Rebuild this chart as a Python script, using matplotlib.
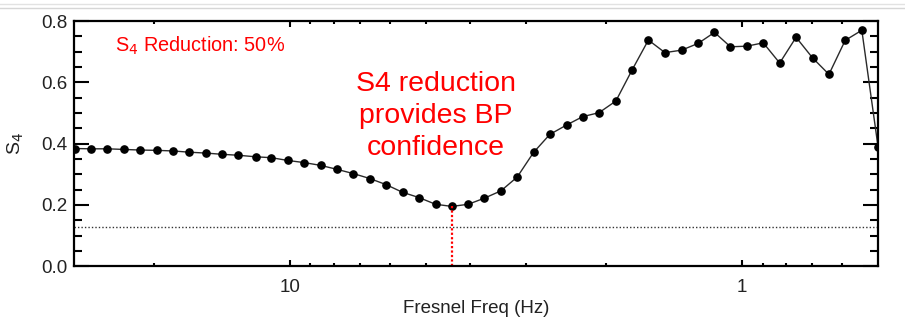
import numpy as np
import matplotlib
matplotlib.use('Agg')
import matplotlib.pyplot as plt
from matplotlib.ticker import FixedLocator, MultipleLocator, NullFormatter, FuncFormatter
from matplotlib.lines import Line2D

plt.rcParams['font.family'] = ['Liberation Sans', 'DejaVu Sans']

# Fresnel frequency (Hz) and S4 values
freq = [29.9, 27.5, 25.3, 23.3, 21.4, 19.7, 18.1, 16.7, 15.3, 14.1,
        13.0, 11.9, 10.98, 10.1, 9.29, 8.55, 7.86, 7.23, 6.65, 6.12,
        5.63, 5.18, 4.76, 4.38, 4.03, 3.71, 3.41, 3.14, 2.89, 2.66,
        2.44, 2.25, 2.07, 1.90, 1.75, 1.61, 1.48, 1.36, 1.25, 1.15,
        1.06, 0.975, 0.897, 0.825, 0.759, 0.698, 0.642, 0.591, 0.543, 0.500]
s4 = [0.384, 0.383, 0.383, 0.381, 0.379, 0.378, 0.376, 0.372, 0.369, 0.365,
      0.362, 0.357, 0.354, 0.345, 0.338, 0.329, 0.316, 0.302, 0.286, 0.266,
      0.241, 0.224, 0.202, 0.195, 0.202, 0.222, 0.246, 0.291, 0.371, 0.430,
      0.461, 0.488, 0.501, 0.539, 0.640, 0.738, 0.697, 0.705, 0.727, 0.763,
      0.716, 0.718, 0.729, 0.663, 0.747, 0.680, 0.626, 0.737, 0.770, 0.390]

noise_level = 0.129      # dotted horizontal line
bp_freq = 4.38           # red marker line (minimum)
bp_s4 = 0.195

fig = plt.figure(figsize=(9.05, 3.29), dpi=100)
ax = fig.add_axes([0.0818, 0.191, 0.8884, 0.745])

# light grey lines at the top of the screenshot
fig.lines.append(Line2D([0, 1], [1 - 3.5/329, 1 - 3.5/329], transform=fig.transFigure,
                        color='#e2e2e2', lw=1))
fig.lines.append(Line2D([0, 1], [1 - 8.3/329, 1 - 8.3/329], transform=fig.transFigure,
                        color='#d6d6d6', lw=1))

ax.plot(freq, s4, '-', color='#2a2a2a', lw=1.0, marker='o', ms=5.2,
        mfc='black', mec='black', clip_on=True)
ax.axhline(noise_level, color='#333333', lw=1.0, ls=(0, (1, 1.5)))
ax.plot([bp_freq, bp_freq], [0, bp_s4], color='red', lw=1.6, ls=(0, (1, 1)))

ax.set_xscale('log')
ax.set_xlim(30, 0.5)
ax.set_ylim(0, 0.8)

ax.xaxis.set_major_locator(FixedLocator([10, 1]))
ax.xaxis.set_major_formatter(FuncFormatter(lambda v, p: '%g' % v))
ax.xaxis.set_minor_locator(FixedLocator([20, 9, 8, 7, 6, 5, 4, 3, 2, 0.9, 0.8, 0.7, 0.6]))
ax.xaxis.set_minor_formatter(NullFormatter())

ax.yaxis.set_major_locator(MultipleLocator(0.2))
ax.yaxis.set_major_formatter(FuncFormatter(lambda v, p: '%.1f' % v))
ax.yaxis.set_minor_locator(MultipleLocator(0.05))

ax.tick_params(which='both', direction='in', top=True, right=True, colors='black',
               labelsize=13.5, labelcolor='#222222')
ax.tick_params(axis='y', which='major', length=11, width=1.5, pad=5)
ax.tick_params(axis='y', which='minor', length=5.5, width=1.5)
ax.tick_params(axis='x', which='major', length=4, width=1.5, pad=9)
ax.tick_params(axis='x', which='minor', length=2.5, width=1.5)

for sp in ax.spines.values():
    sp.set_linewidth(1.6)

ax.set_xlabel('Fresnel Freq (Hz)', fontsize=13.5, color='#222222', labelpad=3)
ax.set_ylabel('S$_4$', fontsize=14, color='#222222')
ax.yaxis.set_label_coords(-0.06, 0.5)

ax.text(0.051, 0.873, 'S$_4$ Reduction: 50%', transform=ax.transAxes,
        color='red', fontsize=14.3, va='baseline', ha='left')
ax.text(0.450, 0.612, 'S4 reduction\nprovides BP\nconfidence', transform=ax.transAxes,
        color='red', fontsize=20.5, ha='center', va='center', multialignment='center',
        linespacing=1.3)

fig.savefig('out.png', dpi=100)
